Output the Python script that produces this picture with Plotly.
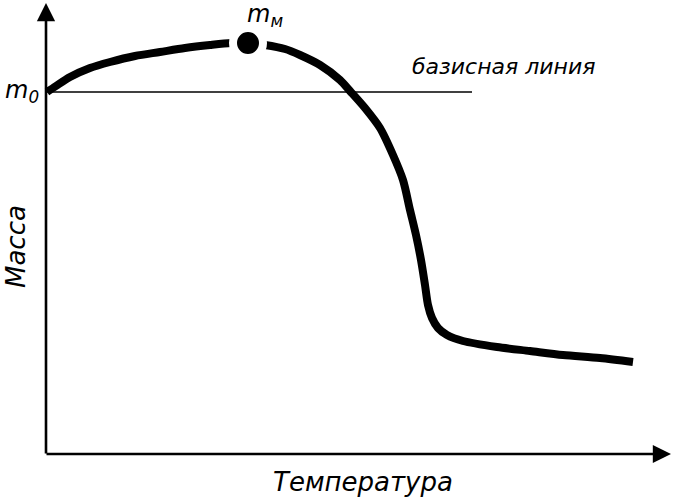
import plotly.graph_objects as go

# Curve: temperature (arbitrary units) vs mass (arbitrary units)
temperature = [1, 10, 24, 44, 64, 89, 114, 139, 164, 185, 202, 219, 239, 254, 274, 294, 304,
               319, 334, 347, 357, 364, 370, 375, 379, 382, 386, 392, 401, 417, 451,
               484, 517, 554, 587]
mass = [362, 368, 377, 386, 392, 398, 402, 406, 409, 411, 411, 409, 405, 399, 389, 374, 363,
        346, 326, 299, 274, 244, 219, 194, 169, 149, 136, 126, 119, 113, 107,
        103, 99, 96, 92]

m0_value = 362          # initial mass (baseline)
baseline_end = 426      # temperature where the baseline stops
peak_temperature = [202]
peak_mass = [411]

x_axis_end = 625
y_axis_end = 451

fig = go.Figure()

# baseline
fig.add_trace(go.Scatter(x=[0, baseline_end], y=[m0_value, m0_value], mode="lines",
                         line=dict(color="black", width=1.6), hoverinfo="skip"))
# mass curve
fig.add_trace(go.Scatter(x=temperature, y=mass, mode="lines",
                         line=dict(color="black", width=8, shape="spline", smoothing=0.8),
                         hoverinfo="skip"))
# peak marker
fig.add_trace(go.Scatter(x=peak_temperature, y=peak_mass, mode="markers",
                         marker=dict(size=30, color="black", line=dict(color="white", width=8)),
                         hoverinfo="skip"))

annotations = [
    # axes with arrowheads
    dict(x=0, y=y_axis_end, ax=0, ay=-1, xref="x", yref="y", axref="x", ayref="y",
         showarrow=True, arrowhead=2, arrowsize=1.4, arrowwidth=2.6, arrowcolor="black",
         text="", standoff=0),
    dict(x=x_axis_end, y=0, ax=-1, ay=0, xref="x", yref="y", axref="x", ayref="y",
         showarrow=True, arrowhead=2, arrowsize=1.4, arrowwidth=2.6, arrowcolor="black",
         text="", standoff=0),
    dict(x=-24, y=363, xref="x", yref="y", text="<i>m<sub>0</sub></i>", showarrow=False,
         font=dict(family="DejaVu Sans", size=24, color="black"), xanchor="center", yanchor="middle"),
    dict(x=219, y=439, xref="x", yref="y", text="<i>m<sub>м</sub></i>", showarrow=False,
         font=dict(family="DejaVu Sans", size=24, color="black"), xanchor="center", yanchor="middle"),
    dict(x=364, y=388, xref="x", yref="y", text="<i>базисная линия</i>", showarrow=False,
         font=dict(family="DejaVu Sans", size=22, color="black"), xanchor="left", yanchor="middle"),
    dict(x=317, y=-28, xref="x", yref="y", text="<i>Температура</i>", showarrow=False,
         font=dict(family="DejaVu Sans", size=26, color="black"), xanchor="center", yanchor="middle"),
    dict(x=-30, y=207, xref="x", yref="y", text="<i>Масса</i>", showarrow=False, textangle=-90,
         font=dict(family="DejaVu Sans", size=26, color="black"), xanchor="center", yanchor="middle"),
]

fig.update_layout(
    width=674, height=502,
    margin=dict(l=0, r=0, t=0, b=0),
    paper_bgcolor="white", plot_bgcolor="white",
    showlegend=False,
    xaxis=dict(range=[-46, 628], visible=False, fixedrange=True),
    yaxis=dict(range=[-48, 454], visible=False, fixedrange=True),
    annotations=annotations,
)

fig.write_html("out.html", config={"displayModeBar": False},
               post_script="document.body.style.margin='0px';document.body.style.overflow='hidden';")
